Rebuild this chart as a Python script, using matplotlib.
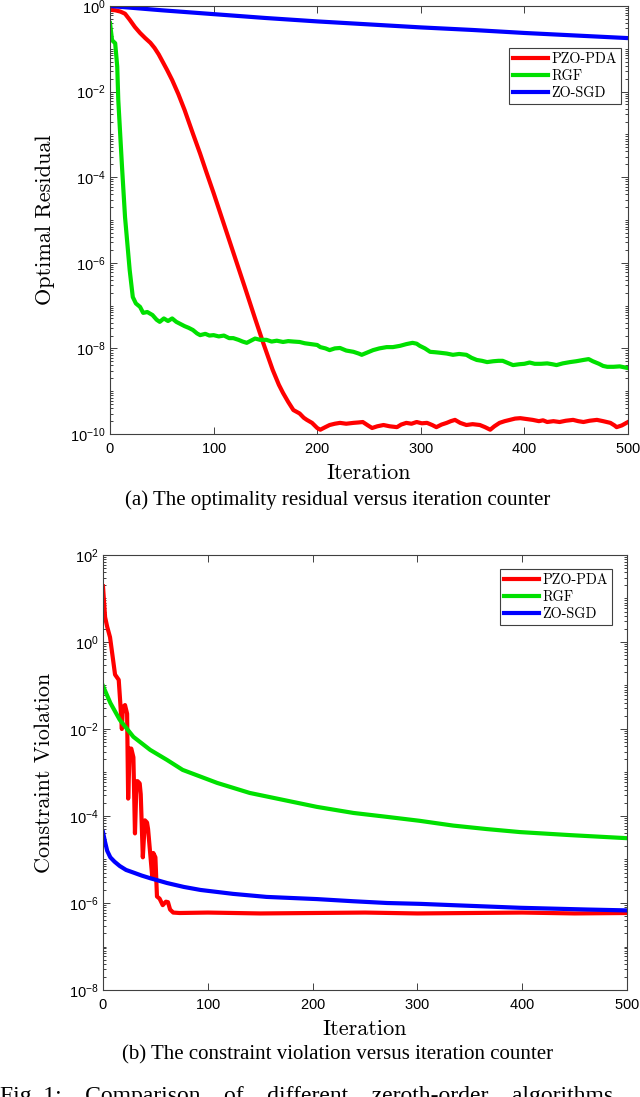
import numpy as np
import matplotlib
matplotlib.use("Agg")
import matplotlib.pyplot as plt
from matplotlib.ticker import FixedLocator, LogLocator, FuncFormatter, NullFormatter

# ---------------- data (log10 of the plotted values) ----------------
# Panel (a): optimal residual
a_pzo_it = [0, 5, 10, 14.5, 19, 24, 29, 34, 39, 43, 47, 51, 55, 60, 66, 72, 80, 87, 93, 100, 110, 120,
            130, 140, 148, 157, 163, 167, 172, 177, 183, 187, 190, 195, 200, 203,
            207, 212, 217, 222, 228, 235, 240, 244, 249, 253, 258, 264, 270, 277, 281, 286, 291, 296,
            301, 306, 311, 315, 320, 325, 329, 333, 338, 344, 350, 357, 362, 367, 371, 376, 381, 386,
            391, 396, 402, 408, 414, 418, 422, 428, 434, 440, 447, 452, 457, 463, 470, 476, 483, 487,
            489, 494, 500]
a_pzo_log = [-0.09, -0.10, -0.13, -0.18, -0.32, -0.49, -0.63, -0.75, -0.86, -0.98, -1.13, -1.31, -1.49,
             -1.73, -2.06, -2.43, -2.98, -3.45, -3.88, -4.37, -5.10, -5.83, -6.56, -7.30,
             -7.88, -8.50, -8.85, -9.04, -9.25, -9.44, -9.52, -9.62, -9.67, -9.74, -9.86, -9.90,
             -9.85, -9.79, -9.76, -9.74, -9.76, -9.74, -9.73, -9.72, -9.80, -9.86, -9.82, -9.79, -9.82,
             -9.84, -9.78, -9.74, -9.76, -9.72, -9.75, -9.74, -9.79, -9.84, -9.78, -9.74, -9.70, -9.67,
             -9.74, -9.79, -9.77, -9.79, -9.84, -9.90, -9.82, -9.74, -9.70, -9.67, -9.64, -9.63, -9.65,
             -9.67, -9.70, -9.68, -9.72, -9.70, -9.72, -9.69, -9.67, -9.70, -9.72, -9.69, -9.67, -9.70,
             -9.74, -9.80, -9.84, -9.80, -9.72]

a_rgf_it = [0, 2, 5, 7, 8, 11.6, 14.5, 19, 22, 25, 29, 32, 36, 41, 45, 48, 52, 56, 60, 64, 68, 72, 76,
            80, 84, 87, 92, 96, 100, 105, 110, 115, 119, 124, 128, 132, 136, 140, 145, 151, 156, 161,
            167, 172, 177, 183, 188, 194, 200, 203, 208, 212, 217, 222, 228, 235, 240, 243, 248, 254,
            260, 267, 273, 280, 286, 292, 296, 299, 304, 309, 314, 318, 325, 331, 337, 344, 349, 354,
            359, 364, 370, 375, 379, 384, 389, 395, 400, 405, 410, 416, 422, 427, 431, 437, 444, 450,
            457, 462, 466, 472, 476, 480, 486, 492, 496, 500]
a_rgf_log = [-0.40, -0.80, -0.87, -1.42, -2.20, -3.76, -4.93, -6.17, -6.80, -6.95, -7.03, -7.17, -7.15,
             -7.22, -7.33, -7.38, -7.30, -7.36, -7.30, -7.38, -7.43, -7.48, -7.52, -7.57, -7.65, -7.69,
             -7.66, -7.70, -7.69, -7.72, -7.70, -7.76, -7.76, -7.80, -7.84, -7.87, -7.82, -7.77, -7.80,
             -7.80, -7.84, -7.82, -7.85, -7.83, -7.84, -7.85, -7.88, -7.90, -7.92, -7.97, -8.00, -8.04,
             -8.00, -7.99, -8.05, -8.08, -8.12, -8.15, -8.10, -8.04, -8.00, -7.97, -7.97, -7.94, -7.90,
             -7.87, -7.89, -7.94, -8.00, -8.08, -8.09, -8.10, -8.12, -8.15, -8.13, -8.15, -8.22, -8.27,
             -8.29, -8.32, -8.30, -8.29, -8.29, -8.34, -8.39, -8.37, -8.36, -8.33, -8.36, -8.36, -8.35,
             -8.37, -8.39, -8.35, -8.32, -8.30, -8.27, -8.25, -8.30, -8.36, -8.41, -8.43, -8.43, -8.42,
             -8.44, -8.46]

a_zo_it = [0, 50, 100, 150, 200, 250, 300, 350, 400, 450, 500]
a_zo_log = [0.0, -0.10, -0.19, -0.28, -0.36, -0.43, -0.50, -0.56, -0.63, -0.69, -0.75]

# Panel (b): constraint violation
b_pzo_it = [0, 2, 4, 6.7, 9, 11.5, 15, 16.5, 18, 19, 21, 23, 24, 25.5, 27, 29, 30.5, 32, 33, 35, 36,
            38, 40, 42, 43, 47, 48, 50, 51.5, 54, 57, 60, 62, 64, 67, 73, 100, 150, 200, 250, 300, 350,
            400, 450, 500]
b_pzo_log = [1.28, 0.57, 0.35, 0.11, -0.30, -0.75, -0.87, -1.40, -2.00, -1.50, -1.45, -1.65, -3.60,
             -2.45, -2.45, -2.65, -4.40, -3.20, -3.20, -3.25, -3.50, -4.95, -4.10, -4.15, -4.30, -5.40,
             -4.85, -4.95, -5.85, -5.90, -6.05, -5.97, -5.98, -6.15, -6.22, -6.23, -6.22, -6.24, -6.23,
             -6.22, -6.24, -6.23, -6.22, -6.24, -6.23]

b_rgf_it = [0, 7, 16, 29, 45, 61, 76, 109, 140, 172, 204, 239, 271, 302, 334, 366, 398, 446, 500]
b_rgf_log = [-1.01, -1.40, -1.79, -2.18, -2.48, -2.71, -2.94, -3.24, -3.47, -3.63, -3.79, -3.93, -4.02,
             -4.11, -4.22, -4.30, -4.37, -4.44, -4.51]

b_zo_it = [0, 2, 4, 7, 11, 16, 22, 29, 37, 45, 61, 77, 93, 124, 156, 204, 239, 271, 303, 334, 366, 398,
           430, 462, 500]
b_zo_log = [-4.37, -4.60, -4.80, -4.95, -5.05, -5.15, -5.24, -5.30, -5.37, -5.43, -5.54, -5.63, -5.70,
            -5.79, -5.86, -5.91, -5.96, -6.00, -6.02, -6.05, -6.08, -6.11, -6.13, -6.15, -6.17]

labels = ["PZO-PDA", "RGF", "ZO-SGD"]
colors = ["#ff0000", "#00e000", "#0000ff"]
a_yticks_exp = [0, -2, -4, -6, -8, -10]
b_yticks_exp = [2, 0, -2, -4, -6, -8]
xticks = [0, 100, 200, 300, 400, 500]

# ---------------- styling ----------------
plt.rcParams["font.family"] = ["Liberation Sans", "DejaVu Sans"]
plt.rcParams["mathtext.fontset"] = "custom"
plt.rcParams["mathtext.rm"] = "Liberation Sans"
plt.rcParams["mathtext.it"] = "Liberation Sans:italic"
plt.rcParams["mathtext.bf"] = "Liberation Sans:bold"
plt.rcParams["axes.formatter.use_mathtext"] = True

W, H = 640, 1097
fig = plt.figure(figsize=(W / 100, H / 100), dpi=100)

def px_axes(l, t, r, b):
    return fig.add_axes([l / W, 1 - b / H, (r - l) / W, (b - t) / H])

ax1 = px_axes(110, 6, 628, 434)
ax2 = px_axes(103, 555, 627, 990)

def expfmt(v, pos):
    e = int(round(np.log10(v)))
    return r"$10^{%d}$" % e

def style(ax, ylim_exp, ytick_exp, ylabel, leg_anchor):
    ax.set_yscale("log")
    ax.set_xlim(0, 500)
    ax.set_ylim(10.0 ** ylim_exp[0], 10.0 ** ylim_exp[1])
    ax.xaxis.set_major_locator(FixedLocator(xticks))
    ax.yaxis.set_major_locator(FixedLocator([10.0 ** e for e in ytick_exp]))
    ax.yaxis.set_minor_locator(LogLocator(base=10, subs=np.arange(1, 10), numticks=100))
    ax.yaxis.set_major_formatter(FuncFormatter(expfmt))
    ax.yaxis.set_minor_formatter(NullFormatter())
    ax.tick_params(which="both", direction="in", top=True, right=True, color="#404040",
                   labelsize=10.5, width=0.7)
    ax.tick_params(which="major", length=5)
    ax.tick_params(which="minor", length=2.5)
    ax.tick_params(axis="x", pad=6)
    ax.tick_params(axis="y", pad=3)
    for s in ax.spines.values():
        s.set_color("#404040")
        s.set_linewidth(0.8)
    ax.set_xlabel("Iteration", family="cmr10", fontsize=16, labelpad=5)
    ax.set_ylabel(ylabel, family="cmr10", fontsize=16, labelpad=11)
    leg = ax.legend(loc="upper right", bbox_to_anchor=leg_anchor, borderaxespad=0,
                    prop={"family": "cmr10", "size": 10.3}, handlelength=2.45, handletextpad=0.2,
                    labelspacing=0.22, borderpad=0.3, fancybox=False, framealpha=1,
                    edgecolor="#404040")
    leg.get_frame().set_linewidth(0.8)

lw = 3.0
for it, lg, lab, c in [(a_pzo_it, a_pzo_log, labels[0], colors[0]),
                       (a_rgf_it, a_rgf_log, labels[1], colors[1]),
                       (a_zo_it, a_zo_log, labels[2], colors[2])]:
    ax1.plot(it, 10.0 ** np.array(lg), color=c, lw=lw, label=lab, solid_joinstyle="round")
style(ax1, (-10, 0), a_yticks_exp, "Optimal Residual", (0.9865, 0.902))

for it, lg, lab, c in [(b_pzo_it, b_pzo_log, labels[0], colors[0]),
                       (b_rgf_it, b_rgf_log, labels[1], colors[1]),
                       (b_zo_it, b_zo_log, labels[2], colors[2])]:
    ax2.plot(it, 10.0 ** np.array(lg), color=c, lw=lw, label=lab, solid_joinstyle="round")
style(ax2, (-8, 2), b_yticks_exp, "Constraint Violation", (0.9714, 0.968))

# captions
fig.text(338 / W, 1 - 500 / H, "(a) The optimality residual versus iteration counter",
         family="Liberation Serif", fontsize=15, ha="center", va="center")
fig.text(338 / W, 1 - 1055 / H, "(b) The constraint violation versus iteration counter",
         family="Liberation Serif", fontsize=15, ha="center", va="center")
fig.text(0 / W, 1 - 1102 / H, "Fig. 1:    Comparison    of    different    zeroth-order    algorithms",
         family="Liberation Serif", fontsize=17, ha="left", va="baseline")

fig.savefig("out.png", dpi=100)
